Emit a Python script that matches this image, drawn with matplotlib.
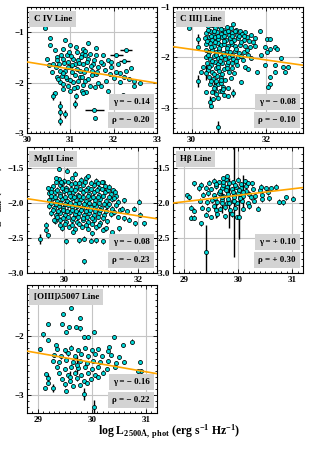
import numpy as np
import matplotlib
matplotlib.use('Agg')
import matplotlib.pyplot as plt
from matplotlib.ticker import MultipleLocator

plt.rcParams['font.family'] = ['Liberation Serif', 'DejaVu Serif']
plt.rcParams['font.weight'] = 'bold'
plt.rcParams['mathtext.fontset'] = 'custom'
plt.rcParams['mathtext.rm'] = 'Liberation Serif:bold'
plt.rcParams['mathtext.bf'] = 'Liberation Serif:bold'
plt.rcParams['mathtext.it'] = 'Liberation Serif:bold'

# ---- C IV ----
civ_x = [30.42, 30.53, 30.52, 30.88, 31.41, 31.59, 30.65, 30.82, 30.99, 31.15, 31.30, 31.76, 31.60,
         31.87, 32.10, 32.29, 32.40, 32.06, 32.48, 32.60, 32.48, 32.25, 32.14, 31.91, 31.83, 31.87,
         31.72, 31.56, 31.45, 31.34, 31.22, 31.07, 30.95, 30.92, 30.80, 30.76, 30.73, 30.61, 30.50,
         30.47, 30.84, 30.95, 31.07, 31.18, 31.30, 31.41, 31.53, 31.64, 31.49, 31.37, 31.15, 31.03,
         30.88, 30.76, 30.84, 30.99, 31.15, 31.26, 31.37, 31.26, 31.45, 31.76, 31.95, 30.65, 31.30,
         31.56, 30.99, 30.69, 31.11, 31.22, 30.92, 31.34, 31.60, 30.69, 30.57,
         30.78, 30.86, 30.94, 31.02, 31.05, 31.10, 31.20, 31.25, 31.32, 31.38, 31.48, 31.55, 31.62,
         31.70, 30.72, 30.82, 30.90, 31.00, 31.18, 31.28, 31.42, 31.50, 30.66, 30.70, 30.98, 31.12,
         31.35, 31.80, 31.95, 32.00, 32.15, 32.35, 30.82, 31.08, 31.30, 31.65]
civ_y = [-0.91, -1.11, -1.26, -1.15, -1.21, -1.31, -1.36, -1.33, -1.26, -1.39, -1.33, -1.46, -1.46,
         -1.56, -1.63, -1.76, -1.71, -1.79, -1.96, -2.01, -2.06, -1.89, -1.99, -1.83, -1.96, -2.16,
         -2.06, -2.09, -2.06, -1.96, -1.89, -1.99, -2.06, -1.93, -1.86, -1.76, -1.63, -1.63, -1.66,
         -1.53, -1.53, -1.59, -1.53, -1.56, -1.63, -1.53, -1.63, -1.69, -1.76, -1.73, -1.73, -1.79,
         -1.76, -1.99, -2.13, -2.16, -2.09, -2.16, -2.19, -1.43, -1.43, -1.63, -1.69, -2.21, -2.21,
         -2.71, -1.69, -1.49, -1.63, -1.76, -1.46, -1.46, -1.83, -1.89, -1.79,
         -1.45, -1.62, -1.70, -1.48, -1.66, -1.85, -1.62, -1.50, -1.78, -1.60, -1.68, -1.55, -1.78,
         -1.60, -1.92, -1.80, -1.88, -1.95, -1.97, -1.88, -1.92, -1.85, -1.70, -1.56, -1.40, -1.30,
         -1.38, -1.75, -1.60, -1.90, -1.80, -1.92, -2.02, -2.10, -2.05, -2.00]
civ_bx = [32.29, 32.06, 32.25, 31.55, 30.60, 30.76, 30.76, 30.76, 30.88, 31.11, 31.13, 32.21]
civ_by = [-1.36, -1.46, -1.58, -2.54, -2.26, -2.46, -2.59, -2.76, -2.63, -2.43, -2.26, -2.25]
civ_bxe = [0.14, 0.15, 0.12, 0.22, 0, 0, 0, 0, 0, 0, 0, 0.05]
civ_bye = [0.03, 0.03, 0.03, 0.03, 0.08, 0.10, 0.08, 0.08, 0.08, 0.08, 0.06, 0.03]

# ---- C III] ----
ciii_x = [30.45, 30.55, 30.62, 30.76, 30.85, 30.95, 31.05, 31.12, 31.20, 31.30, 31.45, 31.60, 31.70,
          30.40, 30.50, 30.58, 30.68, 30.78, 30.90, 31.00, 31.10, 31.22, 31.35, 31.50,
          30.36, 30.46, 30.54, 30.64, 30.72, 30.82, 30.92, 31.02, 31.14, 31.26, 31.40, 31.55, 31.66,
          30.40, 30.50, 30.60, 30.70, 30.80, 30.88, 30.98, 31.08, 31.18, 31.30, 31.44, 31.58,
          30.38, 30.47, 30.56, 30.65, 30.74, 30.84, 30.94, 31.04, 31.16, 31.28, 31.40, 31.52,
          30.40, 30.50, 30.60, 30.70, 30.80, 30.90, 31.00, 31.12, 31.25, 31.38, 31.60,
          30.42, 30.52, 30.62, 30.72, 30.82, 30.95, 31.08, 31.22, 31.45,
          30.45, 30.55, 30.65, 30.75, 30.86, 31.00, 31.15,
          30.48, 30.58, 30.68, 30.78, 30.90, 31.05,
          30.50, 30.62, 30.72, 30.84, 30.98,
          30.55, 30.66, 30.76, 30.88,
          30.43, 30.52, 30.60, 30.70, 30.80, 30.88, 30.98, 31.08, 31.17, 31.28, 31.40,
          30.42, 30.52, 30.62, 30.75, 30.86, 30.96, 31.06, 31.20, 31.34, 31.48,
          30.44, 30.55, 30.66, 30.77, 30.88, 30.98, 31.10, 31.20, 31.32,
          30.48, 30.60, 30.70, 30.82, 30.94, 31.08,
          30.53, 30.66, 30.80, 30.62, 30.72, 30.82,
          29.93, 31.84, 32.02, 32.11, 31.70, 31.97, 32.11, 32.24, 32.29, 32.02, 31.88, 32.42, 31.97,
          32.24, 32.24, 32.46, 32.60, 32.51, 32.11, 32.11, 32.06, 31.75, 31.52, 31.34, 30.17, 30.31,
          30.26, 30.40, 30.53, 30.58, 30.98, 30.85]
ciii_y = [-1.38, -1.36, -1.42, -1.39, -1.45, -1.40, -1.42, -1.33, -1.45, -1.48, -1.50, -1.55, -1.62,
          -1.52, -1.48, -1.55, -1.50, -1.53, -1.50, -1.55, -1.52, -1.56, -1.54, -1.60,
          -1.62, -1.60, -1.65, -1.60, -1.64, -1.60, -1.66, -1.62, -1.65, -1.62, -1.66, -1.68, -1.70,
          -1.74, -1.72, -1.77, -1.72, -1.76, -1.73, -1.78, -1.74, -1.78, -1.75, -1.78, -1.80,
          -1.86, -1.90, -1.85, -1.90, -1.86, -1.92, -1.87, -1.90, -1.88, -1.92, -1.90, -1.95,
          -2.00, -2.03, -1.98, -2.02, -1.99, -2.04, -2.00, -2.03, -2.00, -2.05, -2.02,
          -2.12, -2.15, -2.10, -2.14, -2.12, -2.16, -2.12, -2.15, -2.20,
          -2.25, -2.28, -2.22, -2.27, -2.24, -2.28, -2.30,
          -2.38, -2.42, -2.37, -2.41, -2.44, -2.40,
          -2.52, -2.56, -2.52, -2.58, -2.60,
          -2.68, -2.72, -2.66, -2.74,
          -1.45, -1.57, -1.47, -1.58, -1.44, -1.57, -1.47, -1.58, -1.48, -1.57, -1.58,
          -1.68, -1.80, -1.69, -1.81, -1.68, -1.82, -1.69, -1.83, -1.70, -1.85,
          -1.95, -2.08, -1.95, -2.08, -1.96, -2.09, -1.96, -2.08, -1.98,
          -2.20, -2.33, -2.19, -2.33, -2.22, -2.22,
          -2.46, -2.47, -2.50, -2.62, -2.80, -2.66,
          -1.41, -1.48, -1.63, -1.63, -1.77, -1.79, -1.83, -1.79, -1.83, -1.89, -1.96, -2.01, -2.16,
          -2.16, -2.29, -2.19, -2.19, -2.29, -2.39, -2.53, -2.59, -2.29, -2.23, -2.49, -1.79, -2.19,
          -2.29, -2.69, -2.96, -2.83, -2.76, -2.63]
ciii_bx = [30.17, 30.17, 30.49, 30.71, 31.12, 30.40, 30.60, 30.80]
ciii_by = [-1.63, -2.46, -2.89, -3.39, -2.71, -2.30, -2.60, -2.45]
ciii_bxe = [0, 0, 0, 0, 0, 0, 0, 0]
ciii_bye = [0.10, 0.12, 0.12, 0.12, 0.08, 0.15, 0.12, 0.10]

# ---- MgII ----
mg_x = [29.85, 30.00, 30.20, 30.45, 30.60, 30.85,
        29.70, 29.90, 30.05, 30.18, 30.32, 30.50, 30.65, 30.80, 30.95, 31.10,
        29.60, 29.75, 29.88, 30.00, 30.12, 30.25, 30.38, 30.52, 30.66, 30.80, 30.95, 31.10, 31.25, 31.40,
        29.58, 29.70, 29.82, 29.95, 30.08, 30.20, 30.32, 30.45, 30.58, 30.70, 30.84, 30.98, 31.12, 31.28,
        31.45, 31.60,
        29.60, 29.72, 29.85, 29.98, 30.10, 30.22, 30.35, 30.48, 30.60, 30.72, 30.86, 31.00, 31.15, 31.30,
        31.50, 31.70,
        29.65, 29.78, 29.90, 30.03, 30.15, 30.28, 30.40, 30.53, 30.66, 30.80, 30.94, 31.08, 31.25, 31.45,
        31.60,
        29.75, 29.90, 30.05, 30.20, 30.35, 30.50, 30.65, 30.80, 30.98, 31.15,
        29.95, 30.12, 30.30, 30.48, 30.65, 30.85, 31.05,
        29.78, 29.95, 30.10, 30.28, 30.40, 30.55, 30.72, 30.90, 31.05,
        29.65, 29.80, 29.95, 30.06, 30.18, 30.30, 30.44, 30.58, 30.72, 30.88, 31.02, 31.18, 31.33,
        29.65, 29.76, 29.90, 30.03, 30.15, 30.27, 30.40, 30.52, 30.64, 30.77, 30.90, 31.05, 31.20, 31.35,
        29.65, 29.78, 29.90, 30.03, 30.15, 30.28, 30.40, 30.54, 30.66, 30.80, 30.93, 31.08, 31.22, 31.40,
        29.70, 29.84, 29.96, 30.08, 30.20, 30.33, 30.45, 30.58, 30.70, 30.83, 30.97, 31.12, 31.35,
        29.82, 29.97, 30.10, 30.25, 30.38, 30.50, 30.62, 30.75, 30.90, 31.05,
        30.02, 30.20, 30.40, 30.58, 30.75, 30.95,
        29.86, 30.07, 30.28, 29.79, 29.92, 29.56, 29.65, 31.21, 31.37, 30.63, 31.03, 32.01, 31.88, 32.05,
        32.14, 31.92, 31.74, 31.56, 29.52, 29.56, 29.50, 30.05, 30.41, 30.54, 30.72, 30.85, 31.05,
        30.54, 29.88, 29.74, 30.23, 30.76, 31.30, 31.12, 31.48]
mg_y = [-1.66, -1.68, -1.65, -1.67, -1.64, -1.68,
        -1.76, -1.74, -1.78, -1.73, -1.77, -1.74, -1.78, -1.75, -1.78, -1.76,
        -1.86, -1.84, -1.87, -1.83, -1.86, -1.84, -1.88, -1.84, -1.87, -1.85, -1.88, -1.84, -1.87, -1.90,
        -1.96, -1.93, -1.97, -1.94, -1.97, -1.93, -1.96, -1.94, -1.97, -1.93, -1.96, -1.94, -1.97, -1.95,
        -1.98, -1.96,
        -2.05, -2.07, -2.04, -2.07, -2.03, -2.06, -2.04, -2.07, -2.03, -2.06, -2.04, -2.07, -2.05, -2.08,
        -2.10, -2.12,
        -2.15, -2.17, -2.14, -2.17, -2.13, -2.16, -2.14, -2.17, -2.14, -2.17, -2.14, -2.17, -2.16, -2.20,
        -2.22,
        -2.26, -2.24, -2.27, -2.24, -2.27, -2.24, -2.27, -2.25, -2.28, -2.26,
        -2.36, -2.34, -2.37, -2.34, -2.37, -2.35, -2.38,
        -1.70, -1.72, -1.70, -1.71, -1.72, -1.70, -1.71, -1.72, -1.70,
        -1.80, -1.81, -1.79, -1.81, -1.80, -1.81, -1.80, -1.81, -1.80, -1.81, -1.80, -1.82, -1.82,
        -1.90, -1.91, -1.90, -1.91, -1.90, -1.91, -1.90, -1.91, -1.90, -1.91, -1.91, -1.90, -1.92, -1.93,
        -2.00, -2.01, -2.00, -2.01, -2.00, -2.01, -2.00, -2.01, -2.00, -2.01, -2.00, -2.02, -2.01, -2.03,
        -2.10, -2.11, -2.10, -2.11, -2.10, -2.11, -2.10, -2.11, -2.10, -2.11, -2.10, -2.11, -2.13,
        -2.20, -2.21, -2.20, -2.21, -2.20, -2.21, -2.20, -2.21, -2.20, -2.22,
        -2.30, -2.31, -2.30, -2.31, -2.30, -2.32,
        -1.51, -1.54, -1.58, -1.65, -1.70, -1.79, -1.84, -1.77, -1.84, -1.62, -1.70, -1.98, -2.08, -2.17,
        -2.29, -2.29, -2.24, -2.08, -2.39, -2.46, -2.31, -2.55, -2.53, -2.51, -2.54, -2.53, -2.55,
        -2.83, -2.31, -2.24, -2.41, -2.43, -2.42, -2.36, -2.36]
mg_bx = [29.34]
mg_by = [-2.52]
mg_bxe = [0]
mg_bye = [0.07]

# ---- Hbeta ----
hb_x = [29.55, 29.65, 29.78, 29.90, 30.00, 30.12, 30.25,
        29.40, 29.50, 29.60, 29.70, 29.80, 29.88, 29.96, 30.05, 30.15, 30.28, 30.40,
        29.35, 29.45, 29.55, 29.64, 29.72, 29.82, 29.92, 30.00, 30.10, 30.20, 30.32, 30.45, 30.55,
        29.30, 29.42, 29.52, 29.62, 29.70, 29.80, 29.90, 29.98, 30.08, 30.18, 30.30, 30.45,
        29.33, 29.45, 29.56, 29.66, 29.76, 29.86, 29.95, 30.10, 30.20,
        29.40, 29.50, 29.62, 29.75, 29.88, 29.98,
        29.60, 29.72, 29.84, 29.94, 30.06, 30.18, 29.66, 29.78, 29.90, 30.02, 30.14, 29.58, 29.70,
        29.82, 29.93, 30.04, 30.24,
        29.05, 29.10, 29.18, 29.14, 29.18, 29.14, 29.19, 29.32, 30.37, 30.70, 30.88, 31.02, 30.76,
        30.84, 30.58, 30.52, 30.61, 30.43, 29.73, 29.79, 29.72, 29.46, 29.31, 29.28]
hb_y = [-1.68, -1.70, -1.66, -1.70, -1.67, -1.69, -1.72,
        -1.78, -1.80, -1.76, -1.79, -1.77, -1.80, -1.77, -1.79, -1.76, -1.80, -1.82,
        -1.88, -1.86, -1.89, -1.86, -1.90, -1.87, -1.89, -1.86, -1.90, -1.87, -1.90, -1.88, -1.85,
        -1.97, -1.99, -1.96, -1.99, -1.96, -2.00, -1.97, -2.00, -1.97, -2.00, -1.97, -1.95,
        -2.07, -2.09, -2.05, -2.08, -2.06, -2.10, -2.07, -2.08, -2.05,
        -2.17, -2.20, -2.16, -2.19, -2.16, -2.20,
        -1.73, -1.74, -1.72, -1.74, -1.73, -1.72, -1.83, -1.82, -1.84, -1.82, -1.83, -1.93, -1.92,
        -1.94, -1.92, -1.93, -1.92,
        -1.89, -1.92, -1.72, -2.07, -2.11, -2.21, -2.21, -2.29, -2.08, -1.77, -1.92, -1.94, -1.98,
        -1.99, -1.93, -1.79, -1.79, -1.77, -1.65, -1.62, -1.70, -1.71, -1.74, -1.79]
hb_bx = [29.41, 29.92, 30.02, 29.84, 30.10, 29.70, 29.60]
hb_by = [-2.70, -1.97, -2.20, -2.00, -1.85, -2.00, -2.10]
hb_bxe = [0, 0, 0, 0, 0, 0, 0]
hb_bye = [0.38, 0.80, 0.31, 0.36, 0.25, 0.15, 0.12]

# ---- [OIII] 5007 ----
o3_x = [29.35, 29.50, 29.62, 29.75, 29.88, 30.00, 30.12, 30.30,
        29.30, 29.42, 29.55, 29.68, 29.80, 29.92, 30.05, 30.18, 30.35, 30.50,
        29.28, 29.40, 29.52, 29.65, 29.78, 29.90, 30.02, 30.15, 30.30, 30.45, 30.60,
        29.35, 29.50, 29.62, 29.75, 29.88, 30.00, 30.12, 30.28, 30.42,
        29.40, 29.55, 29.68, 29.80, 29.92, 30.05, 30.20,
        29.45, 29.60, 29.72, 29.85, 29.98, 30.12,
        29.50, 29.65, 29.78, 29.90,
        29.61, 29.46, 29.18, 29.09, 29.58, 29.70, 29.77, 29.52, 29.86, 29.92, 30.04, 30.41, 30.74,
        29.04, 29.18, 29.33, 30.88, 30.91, 30.85, 30.57, 30.32, 29.15, 29.18, 29.14, 29.52, 29.44,
        29.77]
o3_y = [-2.22, -2.25, -2.20, -2.24, -2.21, -2.25, -2.22, -2.26,
        -2.32, -2.35, -2.30, -2.34, -2.31, -2.35, -2.31, -2.34, -2.32, -2.36,
        -2.43, -2.45, -2.41, -2.45, -2.42, -2.46, -2.42, -2.45, -2.43, -2.46, -2.44,
        -2.53, -2.56, -2.52, -2.55, -2.52, -2.56, -2.53, -2.56, -2.52,
        -2.63, -2.66, -2.62, -2.66, -2.63, -2.66, -2.62,
        -2.73, -2.76, -2.72, -2.76, -2.73, -2.70,
        -2.82, -2.85, -2.83, -2.80,
        -1.53, -1.64, -1.80, -1.98, -1.85, -1.85, -1.88, -1.94, -2.02, -2.03, -1.94, -2.03, -2.10,
        -2.23, -2.08, -2.16, -2.44, -2.60, -2.60, -2.16, -2.19, -2.64, -2.79, -2.88, -2.93, -1.81,
        -1.71]
o3_bx = [29.86, 30.04, 29.18, 29.28, 29.73, 29.60]
o3_by = [-2.98, -3.20, -2.72, -2.88, -2.50, -2.70]
o3_bxe = [0, 0, 0, 0, 0, 0]
o3_bye = [0.10, 0.12, 0.08, 0.06, 0.15, 0.10]

names = ['C IV Line', 'C III] Line', 'MgII Line', 'H\u03b2 Line', '[OIII]\u03bb5007 Line']
gamma = [-0.14, -0.08, -0.08, 0.10, -0.16]
rho = [-0.20, -0.10, -0.23, 0.30, -0.22]
fit_a = [-1.59, -1.84, -2.02, -1.89, -2.45]   # fit value at x = 30
fit_b = [-0.14, -0.105, -0.082, 0.092, -0.158]

panels = [
    (civ_x, civ_y, civ_bx, civ_by, civ_bxe, civ_bye),
    (ciii_x, ciii_y, ciii_bx, ciii_by, ciii_bxe, ciii_bye),
    (mg_x, mg_y, mg_bx, mg_by, mg_bxe, mg_bye),
    (hb_x, hb_y, hb_bx, hb_by, hb_bxe, hb_bye),
    (o3_x, o3_y, o3_bx, o3_by, o3_bxe, o3_bye),
]

# axes boxes in figure fraction, limits and tick steps
rects = [[0.0863, 0.7038, 0.415, 0.2806], [0.553, 0.7038, 0.415, 0.2806],
         [0.0863, 0.392, 0.415, 0.2806], [0.553, 0.392, 0.415, 0.2806],
         [0.0863, 0.0802, 0.415, 0.285]]
xlims = [(30, 33), (29.5, 33), (29, 32.5), (28.8, 31.2), (28.8, 31.2)]
ylims = [(-3, -0.5), (-3.5, -1), (-3, -1.2), (-3, -1.2), (-3.3, -1.15)]
xmaj = [1, 2, 2, 1, 1]
xmin = [0.1, 0.1, 0.2, 0.1, 0.1]
ymaj = [1, 1, 0.5, 0.5, 1]
ymin = [0.1, 0.1, 0.1, 0.1, 0.1]

fig = plt.figure(figsize=(3.13, 4.49), dpi=100)

for i in range(5):
    xs, ys, bx, by, bxe, bye = panels[i]
    ax = fig.add_axes(rects[i])
    ax.set_axisbelow(True)
    ax.grid(True, color='#c4c4c4', lw=0.8)

    ax.errorbar(xs, ys, yerr=0.035, fmt='none', ecolor='k', elinewidth=0.7, zorder=1)
    ax.errorbar(bx, by, xerr=bxe, yerr=bye, fmt='none', ecolor='k', elinewidth=1.0, zorder=1)
    ax.plot(xs + bx, ys + by, 'o', ms=2.9, mfc='#00d8d8', mec='k', mew=0.55, zorder=2)

    xx = np.array(xlims[i])
    ax.plot(xx, fit_a[i] + fit_b[i] * (xx - 30), color='orange', lw=1.2, zorder=3)

    ax.set_xlim(xlims[i])
    ax.set_ylim(ylims[i])
    ax.xaxis.set_major_locator(MultipleLocator(xmaj[i]))
    ax.xaxis.set_minor_locator(MultipleLocator(xmin[i]))
    ax.yaxis.set_major_locator(MultipleLocator(ymaj[i]))
    ax.yaxis.set_minor_locator(MultipleLocator(ymin[i]))
    ax.tick_params(which='both', direction='in', top=True, right=True, labelsize=6.5, pad=2, width=0.6)
    ax.tick_params(which='major', length=3)
    ax.tick_params(which='minor', length=1.5)
    for s in ax.spines.values():
        s.set_linewidth(0.8)

    box = dict(boxstyle='square,pad=0.45', fc='#d3d3d3', ec='none')
    ax.text(0.05, 0.905, names[i], transform=ax.transAxes, fontsize=6.5, fontweight='bold',
            ha='left', va='center', bbox=box, zorder=5)
    sg = '+' if gamma[i] > 0 else '\u2212'
    sr = '+' if rho[i] > 0 else '\u2212'
    ax.text(0.945, 0.245, '\u03b3 = %s %.2f' % (sg, abs(gamma[i])), transform=ax.transAxes,
            fontsize=6.5, fontweight='bold', ha='right', va='center', bbox=box, zorder=5)
    ax.text(0.945, 0.10, '\u03c1 = %s %.2f' % (sr, abs(rho[i])), transform=ax.transAxes,
            fontsize=6.5, fontweight='bold', ha='right', va='center', bbox=box, zorder=5)

fig.text(0.54, 0.038, r'log L$_{\mathbf{2500\AA,\ phot}}$ (erg s$^{-1}$ Hz$^{-1}$)',
         fontsize=8.5, fontweight='bold', ha='center', va='center')
fig.text(-0.006, 0.555, r'log $\mathbf{\kappa_{line}}$ (Hz$^{-1}$)', rotation=90,
         fontsize=8, fontweight='bold', ha='center', va='center')

fig.savefig('out.png', dpi=100)
